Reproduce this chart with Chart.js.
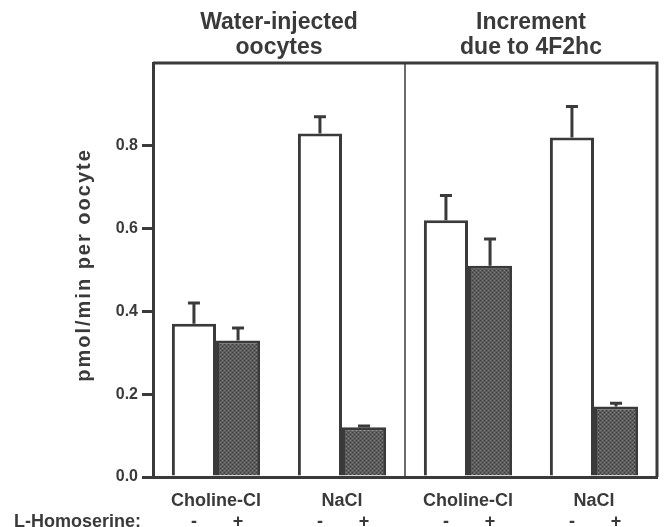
<!DOCTYPE html>
<html>
<head>
<meta charset="utf-8">
<script src="https://cdn.jsdelivr.net/npm/chart.js@4.4.0/dist/chart.umd.min.js"></script>
<style>
  html, body { margin: 0; padding: 0; background: #fff; }
  #wrap { width: 667px; height: 527px; position: relative; }
</style>
</head>
<body>
<div id="wrap"><canvas id="uptakeChart"></canvas></div>
<script>
// data
const categories = ["Choline-Cl", "NaCl", "Choline-Cl", "NaCl"];
const panelTitles = [["Water-injected", "oocytes"], ["Increment", "due to 4F2hc"]];
const minusValues = [0.37, 0.83, 0.62, 0.82];   // without L-Homoserine
const plusValues = [0.33, 0.12, 0.51, 0.17];    // with L-Homoserine
const minusErrors = [0.05, 0.04, 0.06, 0.075];
const plusErrors = [0.03, 0.003, 0.065, 0.008];
const yTicks = [0, 0.2, 0.4, 0.6, 0.8];
const yTitle = "pmol/min per oocyte";

const ink = "#3a3a3a";
const font = "'Liberation Sans', Arial, sans-serif";

// stippled grey like the halftone in the scan
function stipple() {
    const c = document.createElement("canvas");
    c.width = 4; c.height = 4;
    const g = c.getContext("2d");
    g.fillStyle = "#5c5c5c";
    g.fillRect(0, 0, 4, 4);
    g.fillStyle = "#3e3e3e";
    g.fillRect(0, 0, 1, 1); g.fillRect(2, 2, 1, 1);
    g.fillStyle = "#808080";
    g.fillRect(2, 0, 1, 1); g.fillRect(0, 2, 1, 1);
    return g.createPattern(c, "repeat");
}

const errorBars = {
    id: "errorBars",
    afterDatasetsDraw(chart) {
        const ctx = chart.ctx;
        const y = chart.scales.y;
        const errs = [minusErrors, plusErrors];
        ctx.save();
        ctx.strokeStyle = ink;
        ctx.lineWidth = 3;
        chart.data.datasets.forEach(function (ds, i) {
            chart.getDatasetMeta(i).data.forEach(function (bar, j) {
                const top = y.getPixelForValue(ds.data[j] + errs[i][j]);
                ctx.beginPath();
                ctx.moveTo(bar.x, bar.y);
                ctx.lineTo(bar.x, top);
                ctx.moveTo(bar.x - 6, top);
                ctx.lineTo(bar.x + 6, top);
                ctx.stroke();
            });
        });
        ctx.restore();
    }
};

const frame = {
    id: "frame",
    afterDraw(chart) {
        const ctx = chart.ctx;
        const a = chart.chartArea;
        const x = chart.scales.x;
        const mid = (x.getPixelForTick(1) + x.getPixelForTick(2)) / 2;
        ctx.save();
        ctx.strokeStyle = ink;
        ctx.lineWidth = 3;
        ctx.beginPath();
        ctx.moveTo(a.left, a.top);
        ctx.lineTo(a.right, a.top);
        ctx.lineTo(a.right, a.bottom);
        ctx.stroke();
        ctx.lineWidth = 1.5;
        ctx.beginPath();
        ctx.moveTo(mid, a.top);
        ctx.lineTo(mid, a.bottom);
        ctx.stroke();

        // panel titles
        ctx.fillStyle = ink;
        ctx.font = "bold 23px " + font;
        ctx.textAlign = "center";
        ctx.textBaseline = "middle";
        const centers = [(a.left + mid) / 2, (mid + a.right) / 2];
        panelTitles.forEach(function (lines, p) {
            lines.forEach(function (t, k) {
                ctx.fillText(t, centers[p], 23 + k * 25);
            });
        });

        // y axis title, tracked like the original lettering
        ctx.save();
        ctx.translate(84, 265);
        ctx.rotate(-Math.PI / 2);
        ctx.font = "bold 20px " + font;
        ctx.letterSpacing = "2px";
        ctx.fillText(yTitle, 0, 0);
        ctx.restore();

        // L-Homoserine row
        ctx.font = "bold 18px " + font;
        ctx.textAlign = "left";
        ctx.fillText("L-Homoserine:", 14, 522);
        ctx.textAlign = "center";
        chart.data.datasets.forEach(function (ds, i) {
            chart.getDatasetMeta(i).data.forEach(function (bar) {
                ctx.fillText(i === 0 ? "-" : "+", bar.x, 522);
            });
        });
        ctx.restore();
    }
};

const uptakeCtx = document.getElementById("uptakeChart").getContext("2d");
const uptakeChart = new Chart(uptakeCtx, {
    type: "bar",
    data: {
        labels: categories,
        datasets: [
            {
                label: "-",
                data: minusValues,
                backgroundColor: "#ffffff",
                borderColor: ink,
                borderWidth: 3
            },
            {
                label: "+",
                data: plusValues,
                backgroundColor: stipple(),
                borderColor: ink,
                borderWidth: 3
            }
        ]
    },
    options: {
        responsive: true,
        maintainAspectRatio: false,
        animation: false,
        categoryPercentage: 0.7,
        barPercentage: 1.0,
        layout: { padding: { left: 0, top: 63, right: 10, bottom: 0 } },
        plugins: {
            legend: { display: false },
            tooltip: { enabled: false }
        },
        scales: {
            x: {
                grid: { display: false },
                border: { display: true, color: ink, width: 3 },
                ticks: { color: ink, padding: 5, font: { family: font, size: 18, weight: "bold" } },
                afterFit: function (scale) { scale.height = 50; }
            },
            y: {
                min: 0,
                max: 1.0,
                afterBuildTicks: function (scale) {
                    scale.ticks = yTicks.concat([1.0]).map(function (v) { return { value: v }; });
                },
                ticks: {
                    color: ink,
                    padding: 4,
                    font: { family: font, size: 16, weight: "bold" },
                    callback: function (v) { return yTicks.indexOf(v) >= 0 ? v.toFixed(1) : ""; }
                },
                grid: {
                    drawOnChartArea: false,
                    tickLength: 11,
                    lineWidth: 3,
                    color: function (c) { return c.tick && c.tick.value >= 1 ? "rgba(0,0,0,0)" : ink; }
                },
                border: { display: true, color: ink, width: 3 },
                afterFit: function (scale) { scale.width = 153; }
            }
        }
    },
    plugins: [errorBars, frame]
});
</script>
</body>
</html>
